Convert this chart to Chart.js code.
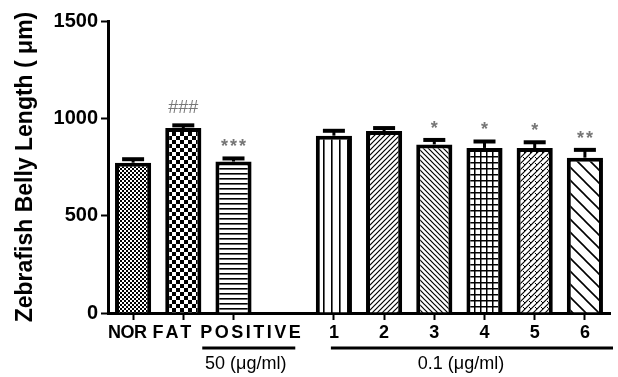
<!DOCTYPE html>
<html>
<head>
<meta charset="utf-8">
<script src="https://cdn.jsdelivr.net/npm/chart.js@4.4.1/dist/chart.umd.min.js"></script>
<style>
  html, body { margin: 0; padding: 0; background: #ffffff; }
  #wrap { width: 618px; height: 377px; }
</style>
</head>
<body>
<div id="wrap"><canvas id="c" width="618" height="377"></canvas></div>
<script>
// Groups measured: controls, positive control, and six test samples
const categories = ['NOR', 'FAT', 'POSITIVE', '1', '2', '3', '4', '5', '6'];
const meanLength = [772, 950, 778, 911, 935, 866, 848, 847, 798];
const semLength  = [18, 14, 16, 25, 15, 23, 33, 30, 40];
const significance = ['', '###', '***', '', '', '*', '*', '*', '**'];
const yTicks = [0, 500, 1000, 1500];
const doseGroups = [
  { label: '50 (\u03BCg/ml)', from: 'POSITIVE', to: 'POSITIVE' },
  { label: '0.1 (\u03BCg/ml)', from: '1', to: '6' }
];

// a blank slot separates the reference groups from the samples
const GAP_AFTER = 2;
function withGap(arr, filler) {
  return arr.slice(0, GAP_AFTER + 1).concat([filler], arr.slice(GAP_AFTER + 1));
}
const labels = withGap(categories, '');
const values = withGap(meanLength, null);
const errors = withGap(semLength, null);
const marks  = withGap(significance, '');

// ---- fill patterns ----
function tile(size, draw) {
  const cv = document.createElement('canvas');
  cv.width = size; cv.height = size;
  const g = cv.getContext('2d');
  g.fillStyle = '#fff';
  g.fillRect(0, 0, size, size);
  g.fillStyle = '#000';
  g.strokeStyle = '#000';
  draw(g, size);
  return g.createPattern(cv, 'repeat');
}
function diag(g, s, dir, w) {
  g.lineWidth = w;
  g.beginPath();
  if (dir > 0) {
    g.moveTo(0, s); g.lineTo(s, 0);
    g.moveTo(-s / 2, s / 2); g.lineTo(s / 2, -s / 2);
    g.moveTo(s / 2, s + s / 2); g.lineTo(s + s / 2, s / 2);
  } else {
    g.moveTo(0, 0); g.lineTo(s, s);
    g.moveTo(-s / 2, s / 2); g.lineTo(s / 2, s + s / 2);
    g.moveTo(s / 2, -s / 2); g.lineTo(s + s / 2, s / 2);
  }
  g.stroke();
}
const patterns = [
  tile(4, (g) => { g.fillRect(0, 0, 2, 2); g.fillRect(2, 2, 2, 2); }),           // NOR
  tile(8, (g) => { g.fillRect(0, 0, 4, 4); g.fillRect(4, 4, 4, 4); }),           // FAT
  tile(5, (g) => { g.fillRect(0, 3, 5, 1.6); }),                                  // POSITIVE
  tile(8, (g) => { g.fillRect(3, 0, 1.6, 8); }),                                  // 1
  tile(5, (g, s) => diag(g, s, 1, 1.2)),                                          // 2
  tile(5, (g, s) => diag(g, s, -1, 1.2)),                                         // 3
  tile(6, (g) => { g.fillRect(0, 0, 6, 1.5); g.fillRect(0, 0, 1.5, 6); }),        // 4
  tile(6, (g, s) => { diag(g, s, 1, 1.2); g.lineWidth = 1; g.beginPath(); g.moveTo(1, 1); g.lineTo(3, 3); g.stroke(); }), // 5
  tile(13, (g, s) => diag(g, s, -1, 1.6))                                        // 6
];
const fills = withGap(patterns, 'transparent');

const FAMILY = '"Liberation Sans", Arial, sans-serif';
const BOLD = 'bold 18px ' + FAMILY;

// upward error bars and significance marks
const errorBars = {
  id: 'errorBars',
  afterDatasetsDraw(chart) {
    const ctx = chart.ctx;
    const y = chart.scales.y;
    const meta = chart.getDatasetMeta(0);
    ctx.save();
    meta.data.forEach((bar, i) => {
      if (values[i] == null) return;
      const top = y.getPixelForValue(values[i]);
      const capY = y.getPixelForValue(values[i] + errors[i]);
      ctx.strokeStyle = '#000';
      ctx.lineWidth = 3;
      ctx.beginPath();
      ctx.moveTo(bar.x, top);
      ctx.lineTo(bar.x, capY);
      ctx.stroke();
      ctx.lineWidth = 4;
      ctx.beginPath();
      ctx.moveTo(bar.x - 11, capY);
      ctx.lineTo(bar.x + 11, capY);
      ctx.stroke();
      if (marks[i]) {
        ctx.fillStyle = '#777';
        ctx.textAlign = 'center';
        ctx.textBaseline = 'middle';
        if (marks[i].startsWith('#')) {
          ctx.font = '18px ' + FAMILY;
          ctx.fillText(marks[i], bar.x, capY - 17);
        } else {
          ctx.font = 'bold 18px ' + FAMILY;
          ctx.letterSpacing = '2px';
          ctx.fillText(marks[i], bar.x + 1, capY - 11);
          ctx.letterSpacing = '0px';
        }
      }
    });
    ctx.restore();
  }
};

// category labels, dose underlines and dose captions under the x axis
const xLabels = {
  id: 'xLabels',
  afterDraw(chart) {
    const ctx = chart.ctx;
    const x = chart.scales.x;
    const area = chart.chartArea;
    const textY = area.bottom + 20;
    const spacing = { NOR: -0.5, FAT: 3, POSITIVE: 2.5 };
    const extent = {};
    ctx.save();
    ctx.fillStyle = '#000';
    ctx.font = BOLD;
    ctx.textBaseline = 'middle';
    ctx.textAlign = 'left';
    let cursor = null;
    labels.forEach((lab, i) => {
      if (!lab) return;
      const px = x.getPixelForValue(i);
      ctx.letterSpacing = (spacing[lab] || 0) + 'px';
      const w = ctx.measureText(lab).width;
      let start;
      if (i <= GAP_AFTER) {
        start = cursor == null ? px - 25 : cursor + 6;
        cursor = start + w;
      } else {
        start = px - w / 2;
      }
      ctx.fillText(lab, start, textY);
      extent[lab] = [start, start + w];
    });
    ctx.letterSpacing = '0px';

    const lineY = area.bottom + 35;
    doseGroups.forEach((grp) => {
      const last = grp.to === labels[labels.length - 1];
      const a = extent[grp.from][0] + 2;
      const b = last ? area.right + 3 : extent[grp.to][1] - 8;
      ctx.strokeStyle = '#000';
      ctx.lineWidth = 3;
      ctx.beginPath();
      ctx.moveTo(a, lineY);
      ctx.lineTo(b, lineY);
      ctx.stroke();
      ctx.font = '18px ' + FAMILY;
      ctx.textAlign = 'center';
      ctx.fillText(grp.label, (a + b) / 2 - (last ? 11 : 3), area.bottom + 51);
      ctx.textAlign = 'left';
    });
    ctx.restore();
  }
};

new Chart(document.getElementById('c'), {
  type: 'bar',
  data: {
    labels: labels,
    datasets: [{
      data: values,
      backgroundColor: fills,
      borderColor: '#000',
      borderWidth: 4,
      borderSkipped: 'start',
      barPercentage: 0.72,
      categoryPercentage: 1.0
    }]
  },
  options: {
    responsive: false,
    animation: false,
    devicePixelRatio: 1,
    layout: { padding: { top: 21, right: 8, left: 0, bottom: 0 } },
    plugins: { legend: { display: false }, tooltip: { enabled: false } },
    scales: {
      x: {
        offset: true,
        border: { display: true, color: '#000', width: 3 },
        grid: {
          display: true,
          offset: false,
          drawOnChartArea: false,
          drawTicks: true,
          tickLength: 7,
          tickWidth: 2,
          tickColor: (c) => (labels[c.index] ? '#000' : 'rgba(0,0,0,0)')
        },
        ticks: { display: false, autoSkip: false },
        afterFit: (s) => { s.height = 64; }
      },
      y: {
        min: 0,
        max: 1500,
        afterBuildTicks: (s) => { s.ticks = yTicks.map((v) => ({ value: v })); },
        border: { display: true, color: '#000', width: 3 },
        grid: {
          display: true,
          drawOnChartArea: false,
          drawTicks: true,
          tickLength: 7,
          tickWidth: 2,
          tickColor: '#000'
        },
        ticks: {
          color: '#000',
          padding: 3,
          callback: (v) => String(v),
          font: { family: FAMILY, size: 20, weight: 'bold' }
        },
        title: {
          display: true,
          text: 'Zebrafish Belly Length ( \u03BCm)',
          color: '#000',
          padding: { top: 12, bottom: 0 },
          font: { family: FAMILY, size: 23, weight: 'bold' }
        },
        afterFit: (s) => { s.width = 108; }
      }
    }
  },
  plugins: [errorBars, xLabels]
});
</script>
</body>
</html>
